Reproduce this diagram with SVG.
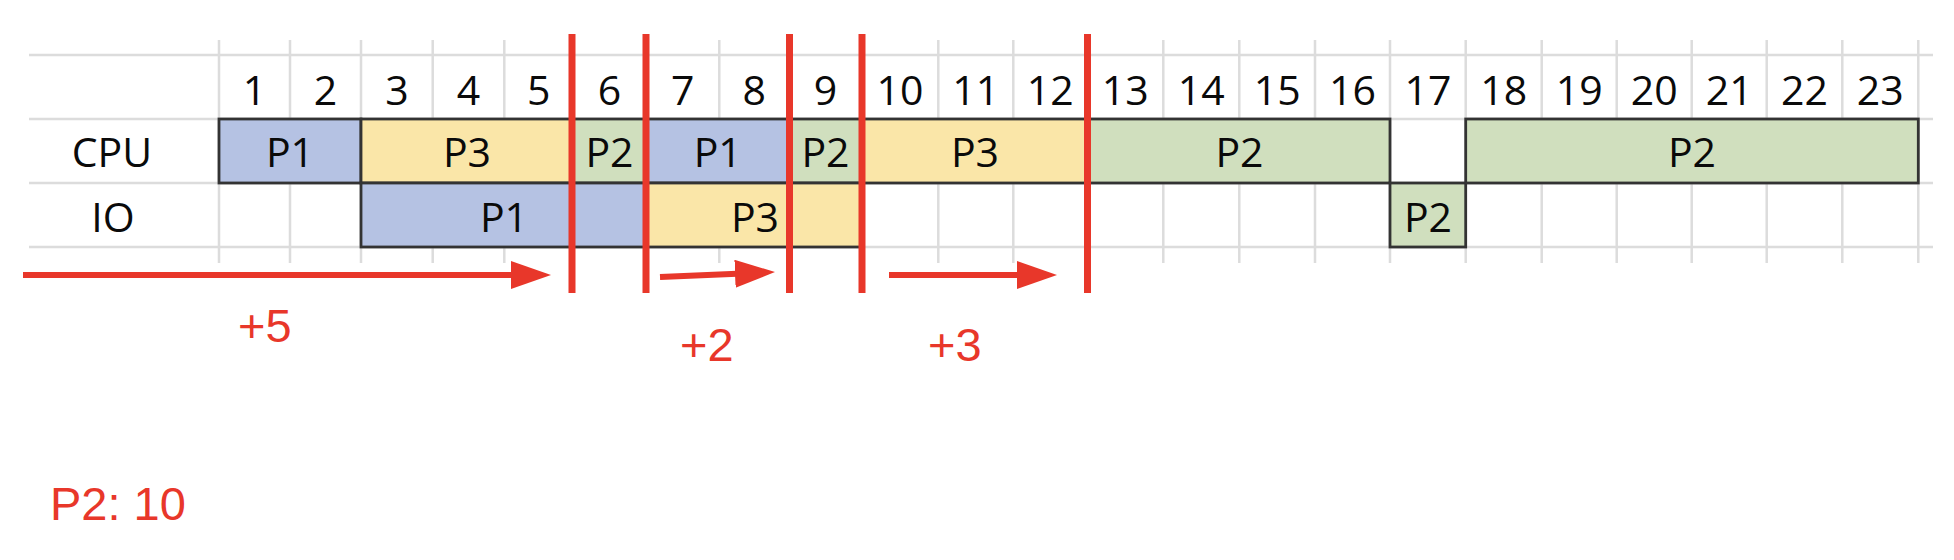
<svg xmlns="http://www.w3.org/2000/svg" width="1954" height="560" viewBox="0 0 1954 560">
  <style>
    .grid { stroke: #dcdcdc; stroke-width: 2.5; fill: none; }
    .box { stroke: #333333; stroke-width: 2.8; }
    .p1 { fill: #b5c2e3; }
    .p2 { fill: #d0dfbe; }
    .p3 { fill: #fae6a8; }
    .t { font-family: "Open Sans", "Noto Sans", sans-serif; font-size: 41px; fill: #0a0a0a; text-anchor: middle; }
    .red { stroke: #e8372a; stroke-width: 7; fill: none; }
    .arr { stroke: #e8372a; stroke-width: 6; fill: none; }
    .rt { font-family: "Liberation Sans", Arial, sans-serif; font-size: 47px; fill: #e8372a; }
  </style>
  <defs>
    <marker id="ah" markerUnits="userSpaceOnUse" markerWidth="40" markerHeight="28" refX="8" refY="14" orient="auto">
      <path d="M0,0 L40,14 L0,28 z" fill="#e8372a"/>
    </marker>
  </defs>
  <rect width="1954" height="560" fill="#ffffff"/>

  <g id="grid">
    <path class="grid" d="M29,55 H1933 M29,119 H1933 M29,183 H1933 M29,247 H1933"/>
    <path class="grid" d="M219,40 V263 M290,40 V263 M361,40 V263 M432.7,40 V263 M504.3,40 V263 M573,40 V263 M646,40 V263 M719.3,40 V263 M789.3,40 V263 M861.7,40 V263 M938.3,40 V263 M1013.3,40 V263 M1087.3,40 V263 M1163.3,40 V263 M1239.3,40 V263 M1315,40 V263 M1390,40 V263 M1465.7,40 V263 M1541.7,40 V263 M1616.7,40 V263 M1691.7,40 V263 M1766.7,40 V263 M1842.3,40 V263 M1918.3,40 V263"/>
  </g>

  <g id="header">
    <text class="t" x="254.5" y="105">1</text>
    <text class="t" x="325.5" y="105">2</text>
    <text class="t" x="396.9" y="105">3</text>
    <text class="t" x="468.5" y="105">4</text>
    <text class="t" x="538.7" y="105">5</text>
    <text class="t" x="609.5" y="105">6</text>
    <text class="t" x="682.7" y="105">7</text>
    <text class="t" x="754.3" y="105">8</text>
    <text class="t" x="825.5" y="105">9</text>
    <text class="t" x="900" y="105">10</text>
    <text class="t" x="975.8" y="105">11</text>
    <text class="t" x="1050.3" y="105">12</text>
    <text class="t" x="1125.3" y="105">13</text>
    <text class="t" x="1201.3" y="105">14</text>
    <text class="t" x="1277.2" y="105">15</text>
    <text class="t" x="1352.5" y="105">16</text>
    <text class="t" x="1427.9" y="105">17</text>
    <text class="t" x="1503.7" y="105">18</text>
    <text class="t" x="1579.2" y="105">19</text>
    <text class="t" x="1654.2" y="105">20</text>
    <text class="t" x="1729.2" y="105">21</text>
    <text class="t" x="1804.5" y="105">22</text>
    <text class="t" x="1880.3" y="105">23</text>
  </g>

  <g id="row-labels">
    <text class="t" x="112" y="167">CPU</text>
    <text class="t" x="113" y="232">IO</text>
  </g>

  <g id="cpu-p1-a">
    <rect class="box p1" x="219" y="119" width="142" height="64"/>
    <text class="t" x="290" y="167">P1</text>
  </g>
  <g id="cpu-p3-a">
    <rect class="box p3" x="361" y="119" width="212" height="64"/>
    <text class="t" x="467" y="167">P3</text>
  </g>
  <g id="cpu-p2-a">
    <rect class="box p2" x="573" y="119" width="73" height="64"/>
    <text class="t" x="609.5" y="167">P2</text>
  </g>
  <g id="cpu-p1-b">
    <rect class="box p1" x="646" y="119" width="143.3" height="64"/>
    <text class="t" x="717.7" y="167">P1</text>
  </g>
  <g id="cpu-p2-b">
    <rect class="box p2" x="789.3" y="119" width="72.4" height="64"/>
    <text class="t" x="825.5" y="167">P2</text>
  </g>
  <g id="cpu-p3-b">
    <rect class="box p3" x="861.7" y="119" width="225.6" height="64"/>
    <text class="t" x="975" y="167">P3</text>
  </g>
  <g id="cpu-p2-c">
    <rect class="box p2" x="1087.3" y="119" width="302.7" height="64"/>
    <text class="t" x="1239.5" y="167">P2</text>
  </g>
  <g id="cpu-p2-d">
    <rect class="box p2" x="1465.7" y="119" width="452.6" height="64"/>
    <text class="t" x="1692" y="167">P2</text>
  </g>

  <g id="io-p1">
    <rect class="box p1" x="361" y="183" width="285" height="64"/>
    <text class="t" x="504" y="232">P1</text>
  </g>
  <g id="io-p3">
    <rect class="box p3" x="646" y="183" width="215.7" height="64"/>
    <text class="t" x="755" y="232">P3</text>
  </g>
  <g id="io-p2">
    <rect class="box p2" x="1390" y="183" width="75.7" height="64"/>
    <text class="t" x="1428" y="232">P2</text>
  </g>

  <g id="markers">
    <line class="red" x1="572" y1="34" x2="572" y2="293"/>
    <line class="red" x1="646" y1="34" x2="646" y2="293"/>
    <line class="red" x1="789.5" y1="34" x2="789.5" y2="293"/>
    <line class="red" x1="862" y1="34" x2="862" y2="293"/>
    <line class="red" x1="1087.5" y1="34" x2="1087.5" y2="293"/>
  </g>

  <g id="connectors">
    <line class="arr" x1="23" y1="275" x2="519" y2="275" marker-end="url(#ah)"/>
    <line class="arr" x1="660" y1="277" x2="743" y2="273.4" marker-end="url(#ah)"/>
    <line class="arr" x1="889" y1="275" x2="1025" y2="275" marker-end="url(#ah)"/>
  </g>

  <g id="annotations">
    <text class="rt" x="238" y="342">+5</text>
    <text class="rt" x="680" y="361">+2</text>
    <text class="rt" x="928" y="361">+3</text>
    <text class="rt" x="50" y="520">P2: 10</text>
  </g>
</svg>
